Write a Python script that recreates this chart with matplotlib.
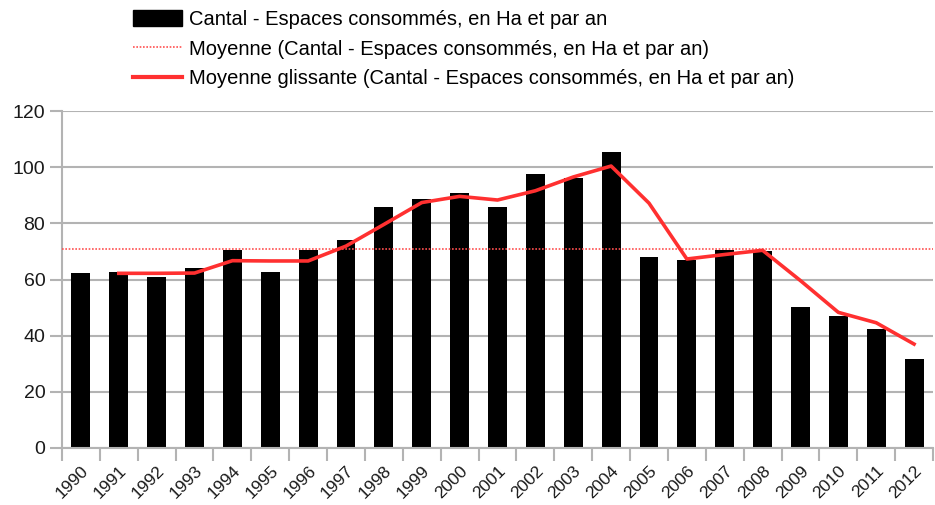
import matplotlib
matplotlib.use('Agg')
import matplotlib.pyplot as plt
from matplotlib.lines import Line2D
from matplotlib.patches import Patch

plt.rcParams['font.family'] = ['Liberation Sans', 'DejaVu Sans']

years = ['1990', '1991', '1992', '1993', '1994', '1995', '1996', '1997', '1998', '1999',
         '2000', '2001', '2002', '2003', '2004', '2005', '2006', '2007', '2008', '2009',
         '2010', '2011', '2012']
values = [62.4, 62.7, 61.0, 64.0, 70.5, 62.7, 70.5, 74.1, 85.7, 88.7, 90.8, 85.7,
          97.6, 96.0, 105.3, 67.9, 66.9, 70.5, 70.3, 50.1, 47.1, 42.3, 31.6]
# moving average, from 1991 to 2012
ma_years = years[1:]
moving_avg = [62.2, 62.2, 62.3, 66.7, 66.6, 66.6, 71.9, 79.6, 87.4, 89.6, 88.3, 91.6,
              96.5, 100.4, 87.2, 67.3, 68.9, 70.4, 59.6, 48.3, 44.6, 37.0]
mean_value = 71.0

label_bar = 'Cantal - Espaces consommés, en Ha et par an'
label_mean = 'Moyenne (Cantal - Espaces consommés, en Ha et par an)'
label_ma = 'Moyenne glissante (Cantal - Espaces consommés, en Ha et par an)'

fig = plt.figure(figsize=(9.35, 5.05), dpi=100)
ax = fig.add_axes([62/935, 57/505, 871/935, 337/505])

x = list(range(len(years)))
xm = [years.index(y) for y in ma_years]

grid_c = '#b3b3b3'
ax.set_axisbelow(True)
ax.yaxis.grid(True, color=grid_c, lw=1.5)
ax.bar(x, values, width=0.5, color='black', zorder=2)
ax.axhline(mean_value, color='#ff5050', lw=1.2, ls=(0, (1, 1)), zorder=3)
ax.plot(xm, moving_avg, color='#ff3030', lw=2.6, zorder=4, solid_joinstyle='round')

ax.set_xlim(-0.5, len(years) - 0.5)
ax.set_ylim(0, 120)
ax.set_yticks(range(0, 121, 20))
ax.tick_params(axis='y', labelsize=14, length=9, width=1.5, color=grid_c, pad=3,
               labelcolor='#1a1a1a')

ax.set_xticks(x)
ax.set_xticklabels(years, rotation=45, ha='right', va='top', rotation_mode='anchor',
                   fontsize=12.5, color='#1a1a1a')
ax.tick_params(axis='x', which='major', length=0, pad=11)
ax.set_xticks([i - 0.5 for i in range(len(years) + 1)], minor=True)
ax.tick_params(axis='x', which='minor', length=9, width=1.5, color=grid_c)

for s in ['top', 'right']:
    ax.spines[s].set_visible(False)
ax.spines['left'].set_color(grid_c)
ax.spines['left'].set_linewidth(1.5)
ax.spines['bottom'].set_color(grid_c)
ax.spines['bottom'].set_linewidth(1.5)

handles = [
    Patch(facecolor='black', edgecolor='black'),
    Line2D([], [], color='#ff5050', lw=1.2, ls=(0, (1, 1))),
    Line2D([], [], color='#ff3030', lw=3),
]
fig.legend(handles, [label_bar, label_mean, label_ma], loc='upper left',
           bbox_to_anchor=(123/935, 1.0), frameon=False, fontsize=14.5,
           handlelength=2.45, handleheight=0.8, handletextpad=0.35, labelspacing=0.53,
           borderaxespad=0.1)

fig.savefig('out.png', dpi=100)
